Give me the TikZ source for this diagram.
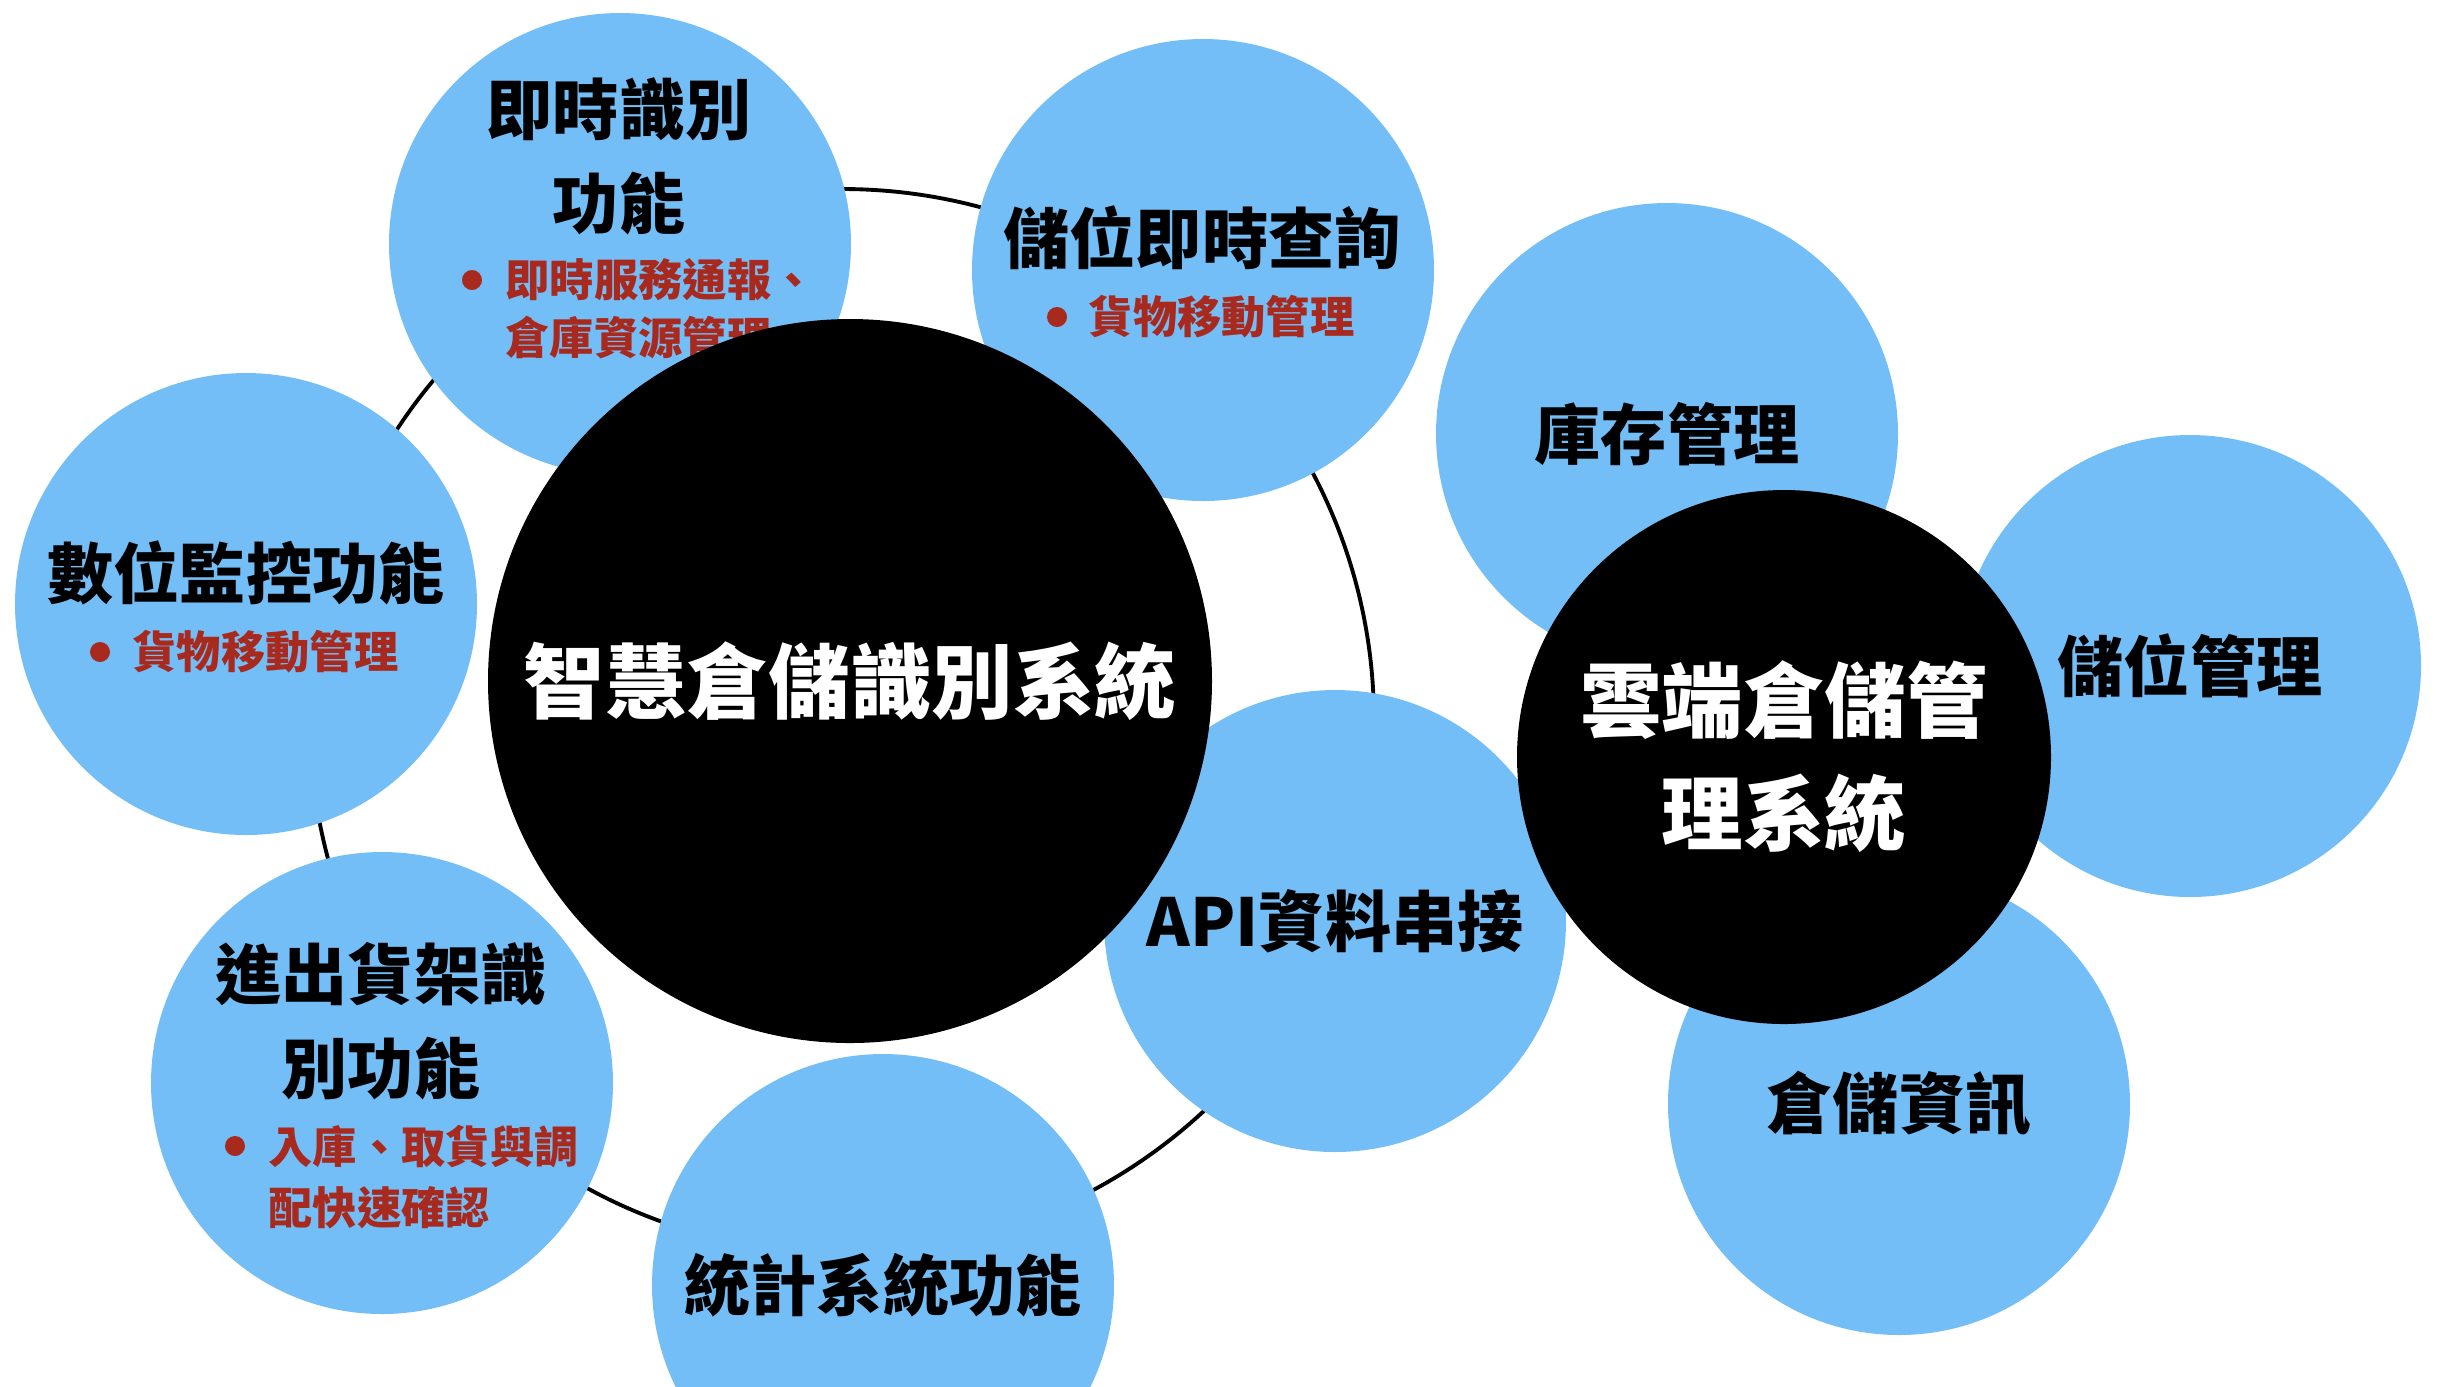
\documentclass[tikz,border=0pt]{standalone}
\usepackage{fontspec}
\setmainfont{Noto Sans CJK TC}
\definecolor{bubblue}{HTML}{74BEF7}
\definecolor{itemred}{HTML}{A82A1E}

\tikzset{ring/.style={circle,draw,line width=1.1pt,inner sep=0pt,minimum size=106.4mm},
         bub/.style={circle,fill=bubblue,inner sep=0pt,minimum size=46.2mm,
                     font=\bfseries\fontsize{18.8}{28.7}\selectfont},
         hub/.style={circle,fill=black,text=white,inner sep=0pt,align=center,
                     font=\bfseries\fontsize{23.2}{32.2}\selectfont},
         head/.style={align=center,inner sep=0pt,font=\bfseries\fontsize{18.8}{28.7}\selectfont},
         item/.style={align=left,anchor=west,inner sep=0pt,text=itemred,
                      font=\bfseries\fontsize{12.6}{18.8}\selectfont},
         dot/.style={circle,fill=itemred,inner sep=0pt,minimum size=2mm}}

\begin{document}
\begin{tikzpicture}[x=0.1mm,y=-0.1mm]
  \useasboundingbox (0,0) rectangle (2446,1386);
  % ring behind the functions
  \node[ring] (ring) at (842,721) {};
  % functions round the ring
  \node[bub] (rt) at (620,244) {};
  \node[head,font=\bfseries\fontsize{18.8}{26.7}\selectfont] (rtT) at (619,156) {即時識別\\功能};
  \node[dot] (rtD) at (472,280) {};
  \node[item,font=\bfseries\fontsize{12.6}{16.6}\selectfont] (rtI) at (505,309) {即時服務通報、\\倉庫資源管理};
  \node[bub] (loc) at (1203,270) {};
  \node[head] (locT) at (1202,238) {儲位即時查詢};
  \node[dot] (locD) at (1057,317) {};
  \node[item] (locI) at (1088,317) {貨物移動管理};
  \node[bub] (mon) at (246,604) {};
  \node[head] (monT) at (246,573) {數位監控功能};
  \node[dot] (monD) at (100,652) {};
  \node[item] (monI) at (132,652) {貨物移動管理};
  \node[bub] (shf) at (382,1083) {};
  \node[head,font=\bfseries\fontsize{18.8}{26.6}\selectfont] (shfT) at (381,1021) {進出貨架識\\別功能};
  \node[dot] (shfD) at (235,1146) {};
  \node[item,font=\bfseries\fontsize{12.6}{17.4}\selectfont] (shfI) at (268,1177) {入庫、取貨與調\\配快速確認};
  \node[bub] (stat) at (883,1285) {統計系統功能};
  \node[bub] (api) at (1335,921) {API資料串接};
  % cloud side
  \node[bub] (inv) at (1667,434) {庫存管理};
  \node[bub] (slot) at (2190,666) {儲位管理};
  \node[bub] (info) at (1899,1104) {倉儲資訊};
  % the two systems
  \node[hub,minimum size=72.4mm] (sys) at (850,681) {智慧倉儲識別系統};
  \node[hub,minimum size=53.4mm] (cloud) at (1784,757) {雲端倉儲管\\理系統};
\end{tikzpicture}
\end{document}
